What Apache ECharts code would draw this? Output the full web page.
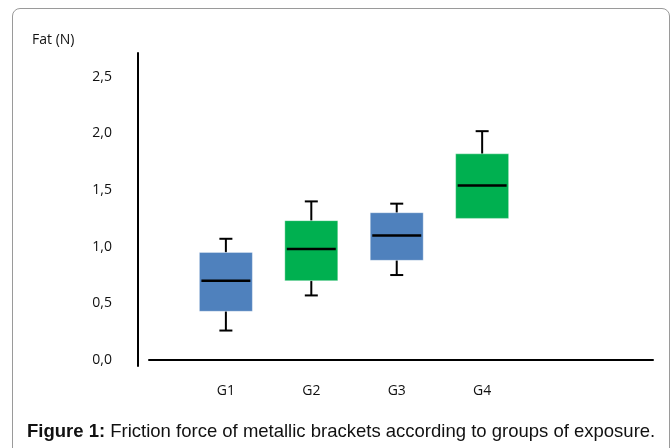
<!DOCTYPE html>
<html>
<head>
<meta charset="utf-8">
<script src="https://cdn.jsdelivr.net/npm/echarts@6/dist/echarts.min.js"></script>
<style>
  html, body { margin: 0; padding: 0; background: #fff; }
  #frame {
    position: absolute; left: 12px; top: 8px; width: 656px; height: 460px;
    border: 1.5px solid #9a9a9a; border-radius: 8px;
  }
  #chart { position: absolute; left: 0; top: 0; width: 672px; height: 448px; }
</style>
</head>
<body>
<div id="frame"></div>
<div id="chart"></div>
<script>
// groups of exposure
const groups = ['G1', 'G2', 'G3', 'G4']
// whisker low, Q1, median, Q3, whisker high (N)
const lowValues = [0.26, 0.57, 0.75, 1.25]
const q1Values = [0.43, 0.70, 0.88, 1.25]
const medianValues = [0.70, 0.98, 1.10, 1.54]
const q3Values = [0.95, 1.23, 1.30, 1.82]
const highValues = [1.07, 1.40, 1.38, 2.02]
const boxColors = ['#4f81bd', '#00b050', '#4f81bd', '#00b050']
const yTicks = [0, 0.5, 1.0, 1.5, 2.0, 2.5]

const seriesData = groups.map((g, i) => [i + 1, lowValues[i], q1Values[i], medianValues[i], q3Values[i], highValues[i]])

const myChart = echarts.init(document.getElementById('chart'))

const renderBox = (params, api) => {
  const x = api.value(0)
  const lo = api.value(1), q1 = api.value(2), med = api.value(3), q3 = api.value(4), hi = api.value(5)
  const w = api.size([1, 0])[0] * 0.62
  const capHalf = 6.5
  const pHi = api.coord([x, hi])
  const pQ3 = api.coord([x, q3])
  const pMed = api.coord([x, med])
  const pQ1 = api.coord([x, q1])
  const pLo = api.coord([x, lo])
  const cx = pMed[0]
  const lineStyle = {stroke: '#000', lineWidth: 2}
  const children = []

  if (hi > q3) {
    children.push({type: 'line', shape: {x1: cx, y1: pHi[1], x2: cx, y2: pQ3[1]}, style: lineStyle})
    children.push({type: 'line', shape: {x1: cx - capHalf, y1: pHi[1], x2: cx + capHalf, y2: pHi[1]}, style: lineStyle})
  }
  if (lo < q1) {
    children.push({type: 'line', shape: {x1: cx, y1: pLo[1], x2: cx, y2: pQ1[1]}, style: lineStyle})
    children.push({type: 'line', shape: {x1: cx - capHalf, y1: pLo[1], x2: cx + capHalf, y2: pLo[1]}, style: lineStyle})
  }
  children.push({
    type: 'rect',
    shape: {x: cx - w / 2, y: pQ3[1], width: w, height: pQ1[1] - pQ3[1]},
    style: {fill: boxColors[params.dataIndex], stroke: 'rgba(255,255,255,0.35)', lineWidth: 1}
  })
  children.push({
    type: 'line',
    shape: {x1: cx - w / 2 + 2, y1: pMed[1], x2: cx + w / 2 - 2, y2: pMed[1]},
    style: {stroke: '#000', lineWidth: 2.5}
  })
  return {type: 'group', children}
}

const option = {
  animation: false,
  title: [
    {
      text: 'Fat (N)',
      left: 32,
      top: 33,
      padding: 0,
      textStyle: {fontFamily: 'Open Sans', fontSize: 14, fontWeight: 'normal', color: '#111'}
    },
    {
      text: '{b|Figure 1:} Friction force of metallic brackets according to groups of exposure.',
      left: 27,
      top: 422,
      padding: 0,
      textStyle: {
        fontFamily: 'Liberation Sans', fontSize: 18.5, fontWeight: 'normal', color: '#111',
        rich: {b: {fontFamily: 'Liberation Sans', fontSize: 18.5, fontWeight: 'bold', color: '#111'}}
      }
    }
  ],
  grid: {left: 149, right: 19, top: 53, bottom: 82},
  xAxis: {
    type: 'value',
    min: 0.1,
    max: 6,
    offset: 4,
    axisLine: {show: true, lineStyle: {color: '#000', width: 2}},
    axisTick: {show: false},
    splitLine: {show: false},
    axisLabel: {
      customValues: [1, 2, 3, 4],
      formatter: (v) => groups[Math.round(v) - 1] || '',
      margin: 14,
      color: '#111',
      fontFamily: 'Open Sans',
      fontSize: 14
    }
  },
  yAxis: {
    type: 'value',
    min: -0.053,
    max: 2.71,
    offset: 11,
    axisLine: {show: true, lineStyle: {color: '#000', width: 2}},
    axisTick: {show: false},
    splitLine: {show: false},
    axisLabel: {
      customValues: yTicks,
      formatter: (v) => v.toFixed(1).replace('.', ','),
      margin: 26,
      color: '#111',
      fontFamily: 'Open Sans',
      fontSize: 14
    }
  },
  series: [
    {
      type: 'custom',
      renderItem: renderBox,
      encode: {x: 0, y: [1, 2, 3, 4, 5]},
      data: seriesData
    }
  ]
}

myChart.setOption(option)
</script>
</body>
</html>
